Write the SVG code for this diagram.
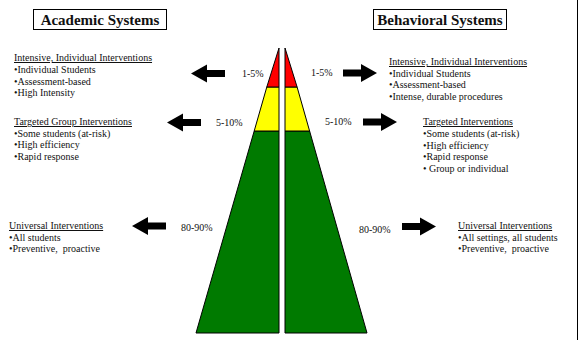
<svg xmlns="http://www.w3.org/2000/svg" width="578" height="353" viewBox="0 0 578 353">
<style>
text{font-family:"Liberation Serif","Times New Roman",serif;fill:#111;}
.t{font-size:10px;}
.h{font-size:15px;font-weight:bold;}
.u{text-decoration:underline;}
.box{fill:#fff;stroke:#000;stroke-width:1;}
.tier{stroke:#000;stroke-width:1;stroke-linejoin:miter;}
</style>
<defs>
<path id="arr" d="M0,-3.5 H18 V-9 L34,0 L18,9 V3.5 H0 Z" fill="#000"/>
</defs>
<rect x="0" y="0" width="578" height="353" fill="#fff"/>
<line x1="577.5" y1="0" x2="577.5" y2="340" stroke="#000" stroke-width="1"/>

<g id="title-academic">
<rect class="box" x="33.5" y="9.5" width="133" height="20"/>
<text class="h" x="100" y="24.5" text-anchor="middle">Academic Systems</text>
</g>
<g id="title-behavioral">
<rect class="box" x="373.5" y="9.5" width="133" height="20"/>
<text class="h" x="440" y="24.5" text-anchor="middle">Behavioral Systems</text>
</g>

<g id="pyramid-left">
<polygon class="tier" fill="#007a00" points="254.2,131 279,131 279,333 196,333"/>
<polygon class="tier" fill="#ffff00" points="266.8,87 279,87 279,131 254.2,131"/>
<polygon class="tier" fill="#ff0000" points="279,48 279,87 266.8,87"/>
</g>
<g id="pyramid-right">
<polygon class="tier" fill="#007a00" points="285,131 309.6,131 367,333 285,333"/>
<polygon class="tier" fill="#ffff00" points="285,87 297.1,87 309.6,131 285,131"/>
<polygon class="tier" fill="#ff0000" points="285,48 297.1,87 285,87"/>
</g>

<g id="connectors">
<use href="#arr" transform="translate(225,73.5) scale(-1,1)"/>
<use href="#arr" transform="translate(201,122.5) scale(-1,1)"/>
<use href="#arr" transform="translate(166,226) scale(-1,1)"/>
<use href="#arr" transform="translate(343,73)"/>
<use href="#arr" transform="translate(363,122)"/>
<use href="#arr" transform="translate(402,226.5)"/>
</g>

<g id="pct-left">
<text class="t" x="242" y="76.5">1-5%</text>
<text class="t" x="216" y="125.5">5-10%</text>
<text class="t" x="181" y="230.5">80-90%</text>
</g>
<g id="pct-right">
<text class="t" x="311" y="76">1-5%</text>
<text class="t" x="325" y="125">5-10%</text>
<text class="t" x="359" y="233">80-90%</text>
</g>

<g id="academic-intensive">
<text class="t u" x="14" y="61">Intensive, Individual Interventions</text>
<text class="t" x="14" y="73">•Individual Students</text>
<text class="t" x="14" y="84.5">•Assessment-based</text>
<text class="t" x="14" y="96">•High Intensity</text>
</g>
<g id="academic-targeted">
<text class="t u" x="14" y="125">Targeted Group Interventions</text>
<text class="t" x="14" y="136.5">•Some students (at-risk)</text>
<text class="t" x="14" y="148">•High efficiency</text>
<text class="t" x="14" y="160">•Rapid response</text>
</g>
<g id="academic-universal">
<text class="t u" x="9" y="229">Universal Interventions</text>
<text class="t" x="9" y="240.5">•All students</text>
<text class="t" x="9" y="252" xml:space="preserve">•Preventive,  proactive</text>
</g>

<g id="behavioral-intensive">
<text class="t u" x="389" y="65">Intensive, Individual Interventions</text>
<text class="t" x="389" y="76.5">•Individual Students</text>
<text class="t" x="389" y="88">•Assessment-based</text>
<text class="t" x="389" y="99.5">•Intense, durable procedures</text>
</g>
<g id="behavioral-targeted">
<text class="t u" x="423" y="125">Targeted Interventions</text>
<text class="t" x="423" y="137">•Some students (at-risk)</text>
<text class="t" x="423" y="148.5">•High efficiency</text>
<text class="t" x="423" y="160">•Rapid response</text>
<text class="t" x="423" y="172" xml:space="preserve">• Group or individual</text>
</g>
<g id="behavioral-universal">
<text class="t u" x="458" y="229">Universal Interventions</text>
<text class="t" x="458" y="240.5">•All settings, all students</text>
<text class="t" x="458" y="252" xml:space="preserve">•Preventive,  proactive</text>
</g>
</svg>
